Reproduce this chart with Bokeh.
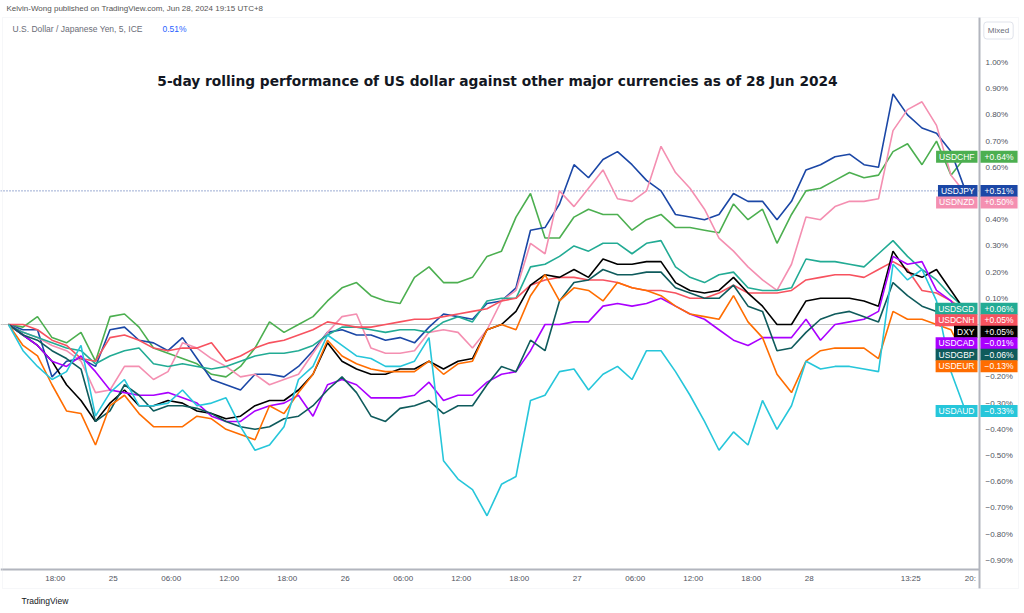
from bokeh.plotting import figure
from bokeh.models import Range1d, FixedTicker, CustomJSTickFormatter, Label, BoxAnnotation
from bokeh.embed import file_html
from bokeh.resources import INLINE

# ---------------- data: 5-day rolling % change, sampled every 1.5 h ----------------
sample_step = 9  # x unit = 10 minutes -> 1.5 h per sample

usdchf = [0.00, -0.01, 0.03, -0.05, -0.07, -0.03, -0.14, 0.03, 0.04, -0.01,
          -0.09, -0.11, -0.13, -0.15, -0.19, -0.20, -0.16, -0.09, 0.01, -0.03,
          0.00, 0.03, 0.09, 0.14, 0.16, 0.11, 0.09, 0.08, 0.18, 0.22,
          0.16, 0.16, 0.18, 0.26, 0.28, 0.41, 0.50, 0.33, 0.33, 0.41,
          0.44, 0.42, 0.42, 0.36, 0.40, 0.42, 0.37, 0.37, 0.36, 0.35,
          0.46, 0.40, 0.44, 0.31, 0.42, 0.51, 0.52, 0.55, 0.58, 0.56,
          0.57, 0.66, 0.69, 0.61, 0.70, 0.57, 0.64]
usdjpy = [0.00, -0.02, -0.02, -0.20, -0.14, -0.13, -0.16, -0.02, -0.01, -0.06,
          -0.07, -0.10, -0.05, -0.13, -0.21, -0.23, -0.25, -0.19, -0.19, -0.20,
          -0.16, -0.10, -0.03, -0.02, -0.04, -0.04, -0.06, -0.05, -0.07, -0.01,
          0.04, 0.03, 0.02, 0.08, 0.09, 0.14, 0.36, 0.37, 0.46, 0.61,
          0.56, 0.63, 0.66, 0.61, 0.55, 0.51, 0.42, 0.41, 0.40, 0.42,
          0.50, 0.47, 0.47, 0.40, 0.47, 0.59, 0.61, 0.64, 0.65, 0.61,
          0.60, 0.88, 0.80, 0.75, 0.73, 0.66, 0.51]
usdnzd = [0.00, -0.03, -0.05, -0.08, -0.10, -0.14, -0.26, -0.25, -0.16, -0.16,
          -0.21, -0.18, -0.07, -0.09, -0.13, -0.16, -0.20, -0.19, -0.23, -0.21,
          -0.19, -0.11, -0.03, 0.03, 0.04, -0.09, -0.11, -0.11, -0.10, -0.03,
          -0.02, -0.03, -0.09, -0.02, 0.09, 0.13, 0.31, 0.27, 0.51, 0.45,
          0.52, 0.59, 0.48, 0.47, 0.51, 0.68, 0.58, 0.52, 0.44, 0.33,
          0.28, 0.22, 0.17, 0.13, 0.23, 0.41, 0.40, 0.45, 0.47, 0.47,
          0.48, 0.74, 0.82, 0.85, 0.76, 0.57, 0.50]
usdsgd = [0.00, -0.03, -0.05, -0.07, -0.09, -0.10, -0.15, -0.12, -0.10, -0.09,
          -0.15, -0.16, -0.15, -0.16, -0.17, -0.16, -0.14, -0.12, -0.11, -0.11,
          -0.10, -0.08, -0.04, -0.01, -0.01, -0.02, -0.03, -0.02, -0.02, -0.03,
          0.01, 0.03, 0.01, 0.09, 0.10, 0.10, 0.22, 0.23, 0.26, 0.30,
          0.28, 0.31, 0.31, 0.27, 0.31, 0.32, 0.22, 0.18, 0.16, 0.19,
          0.20, 0.14, 0.13, 0.13, 0.14, 0.25, 0.24, 0.24, 0.23, 0.22,
          0.27, 0.32, 0.26, 0.21, 0.17, 0.11, 0.06]
usdcnh = [0.00, 0.00, -0.02, -0.06, -0.08, -0.13, -0.14, -0.05, -0.04, -0.06,
          -0.09, -0.10, -0.09, -0.09, -0.07, -0.14, -0.12, -0.09, -0.07, -0.06,
          -0.04, -0.02, 0.01, 0.00, -0.01, -0.01, 0.00, 0.01, 0.02, 0.02,
          0.03, 0.04, 0.05, 0.06, 0.09, 0.10, 0.15, 0.17, 0.18, 0.18,
          0.17, 0.17, 0.16, 0.14, 0.13, 0.13, 0.12, 0.10, 0.10, 0.12,
          0.15, 0.12, 0.12, 0.12, 0.13, 0.17, 0.18, 0.19, 0.19, 0.18,
          0.21, 0.24, 0.21, 0.13, 0.12, 0.09, 0.05]
dxy = [0.00, -0.04, -0.08, -0.14, -0.23, -0.29, -0.37, -0.30, -0.25, -0.31,
       -0.31, -0.29, -0.30, -0.33, -0.34, -0.36, -0.35, -0.31, -0.29, -0.29,
       -0.25, -0.19, -0.07, -0.14, -0.17, -0.19, -0.19, -0.17, -0.17, -0.14,
       -0.17, -0.14, -0.13, -0.02, 0.00, 0.05, 0.15, 0.19, 0.18, 0.21,
       0.18, 0.25, 0.23, 0.23, 0.24, 0.24, 0.16, 0.13, 0.12, 0.13,
       0.18, 0.12, 0.07, 0.00, 0.00, 0.09, 0.10, 0.10, 0.10, 0.09,
       0.07, 0.28, 0.20, 0.18, 0.21, 0.13, 0.05]
usdcad = [0.00, -0.04, -0.08, -0.14, -0.16, -0.12, -0.18, -0.25, -0.26, -0.27,
          -0.27, -0.26, -0.28, -0.30, -0.35, -0.37, -0.37, -0.33, -0.31, -0.30,
          -0.27, -0.35, -0.23, -0.21, -0.23, -0.28, -0.28, -0.28, -0.27, -0.22,
          -0.29, -0.27, -0.27, -0.22, -0.19, -0.18, -0.10, 0.00, 0.00, 0.01,
          0.01, 0.07, 0.08, 0.07, 0.08, 0.10, 0.07, 0.04, 0.02, -0.02,
          -0.06, -0.08, -0.05, -0.05, -0.05, 0.02, -0.06, 0.00, 0.01, 0.02,
          0.05, 0.26, 0.23, 0.24, 0.13, 0.09, -0.01]
usdgbp = [0.00, -0.04, -0.06, -0.10, -0.13, -0.17, -0.37, -0.33, -0.23, -0.27,
          -0.33, -0.31, -0.31, -0.32, -0.34, -0.37, -0.39, -0.40, -0.39, -0.36,
          -0.35, -0.31, -0.25, -0.20, -0.26, -0.35, -0.37, -0.32, -0.31, -0.29,
          -0.34, -0.31, -0.31, -0.23, -0.16, -0.18, -0.06, -0.10, 0.09, 0.16,
          0.17, 0.21, 0.19, 0.19, 0.20, 0.20, 0.14, 0.12, 0.10, 0.10,
          0.15, 0.07, 0.05, -0.10, -0.09, -0.03, 0.02, 0.04, 0.05, 0.03,
          0.01, 0.16, 0.11, 0.07, 0.05, 0.03, -0.06]
usdeur = [0.00, -0.08, -0.12, -0.23, -0.33, -0.34, -0.46, -0.31, -0.27, -0.34,
          -0.39, -0.39, -0.39, -0.35, -0.36, -0.40, -0.42, -0.44, -0.31, -0.34,
          -0.26, -0.19, -0.06, -0.12, -0.15, -0.17, -0.18, -0.18, -0.18, -0.14,
          -0.19, -0.15, -0.14, -0.02, 0.00, -0.02, 0.11, 0.19, 0.09, 0.14,
          0.13, 0.09, 0.16, 0.14, 0.13, 0.11, 0.07, 0.04, 0.03, 0.02,
          0.11, 0.01, -0.05, -0.19, -0.26, -0.14, -0.10, -0.09, -0.09, -0.09,
          -0.13, 0.05, 0.02, 0.02, 0.00, -0.02, -0.13]
usdaud = [0.00, -0.10, -0.16, -0.21, -0.18, -0.08, -0.35, -0.26, -0.21, -0.31,
          -0.31, -0.30, -0.25, -0.31, -0.30, -0.28, -0.39, -0.48, -0.46, -0.39,
          -0.21, -0.16, -0.04, -0.08, -0.12, -0.13, -0.16, -0.16, -0.14, -0.05,
          -0.52, -0.59, -0.63, -0.73, -0.61, -0.58, -0.29, -0.27, -0.18, -0.17,
          -0.25, -0.19, -0.16, -0.21, -0.10, -0.10, -0.18, -0.27, -0.37, -0.48,
          -0.41, -0.46, -0.29, -0.40, -0.31, -0.14, -0.17, -0.16, -0.16, -0.17,
          -0.18, 0.23, 0.17, 0.21, 0.09, -0.18, -0.33]

series_names = ["USDCHF", "USDJPY", "USDNZD", "USDSGD", "USDCNH",
                "DXY", "USDCAD", "USDGBP", "USDEUR", "USDAUD"]
series_values = [usdchf, usdjpy, usdnzd, usdsgd, usdcnh,
                 dxy, usdcad, usdgbp, usdeur, usdaud]
series_colors = ["#4caf50", "#1b47a6", "#f48fb1", "#22ab94", "#f7525f",
                 "#000000", "#aa00ff", "#0f5b5c", "#ff6d00", "#26c6da"]

time_ticks = [29, 65, 101, 137, 173, 209, 245, 281, 317, 353, 389, 425, 461, 497, 560, 597]
time_labels = ["18:00", "25", "06:00", "12:00", "18:00", "26", "06:00", "12:00",
               "18:00", "27", "06:00", "12:00", "18:00", "28", "13:25", "20:"]
pct_ticks = [-0.9, -0.8, -0.7, -0.6, -0.5, -0.4, -0.3, -0.2, -0.1, 0.0,
             0.1, 0.2, 0.3, 0.4, 0.5, 0.6, 0.7, 0.8, 0.9, 1.0]

title_text = "5-day rolling performance of US dollar against other major currencies as of 28 Jun 2024"
header_text = "Kelvin-Wong published on TradingView.com, Jun 28, 2024 19:15 UTC+8"
symbol_text = "U.S. Dollar / Japanese Yen, 5, ICE"
symbol_change = "0.51%"

# ---------------- layout (frame = whole canvas; axes pinned with fixed_location) ----------------
W, H = 1024, 613
PX_PER_X = 58.0 / 36.0     # px per x unit (6 h = 58 px)
PX_PER_PCT = 262.0         # px per 1 %

def sx(px):   # canvas px -> data x (decorations only)
    return (px - 8) / PX_PER_X

def sy(py):   # canvas px -> data y (decorations only)
    return (324 - py) / PX_PER_PCT

AXIS_X = sx(979)     # price-scale edge
AXIS_Y = sy(569)     # time-scale edge

p = figure(width=W, height=H, x_range=Range1d(sx(0), sx(W)), y_range=Range1d(sy(H), sy(0)),
           output_backend="svg", toolbar_location=None, y_axis_location="right",
           min_border_left=0, min_border_right=0, min_border_top=0, min_border_bottom=0,
           background_fill_color="white", border_fill_color="white")
p.outline_line_color = None
p.xgrid.visible = False
p.ygrid.visible = False

FONT = "Liberation Sans"
AX_COL = "#50535e"

xa = p.xaxis[0]
xa.fixed_location = AXIS_Y
xa.bounds = (sx(0), AXIS_X)
xa.ticker = FixedTicker(ticks=time_ticks)
xa.major_label_overrides = {t: l for t, l in zip(time_ticks, time_labels)}
xa.major_tick_out = 0
xa.major_tick_in = 0
xa.minor_tick_out = 0
xa.minor_tick_in = 0
xa.axis_line_color = "#b2b5be"
xa.axis_line_width = 2
xa.major_label_standoff = 4
xa.major_label_text_font = FONT
xa.major_label_text_font_size = "8px"
xa.major_label_text_color = AX_COL

ya = p.yaxis[0]
ya.fixed_location = AXIS_X
ya.bounds = (sy(588), sy(17))
ya.ticker = FixedTicker(ticks=pct_ticks)
ya.formatter = CustomJSTickFormatter(
    code="const a = Math.abs(tick).toFixed(2) + '%'; return (tick < -1e-9 ? '\u2212' : '') + a;")
ya.major_tick_out = 0
ya.major_tick_in = 0
ya.minor_tick_out = 0
ya.minor_tick_in = 0
ya.axis_line_color = "#b2b5be"
ya.axis_line_width = 2
ya.major_label_standoff = 6
ya.major_label_text_font = FONT
ya.major_label_text_font_size = "8px"
ya.major_label_text_color = AX_COL

# chart border
p.add_layout(BoxAnnotation(left=sx(2), right=sx(1018), top=sy(17), bottom=sy(588),
                           fill_alpha=0, line_color="#e0e3eb", line_width=1))

# zero line and last-price (USDJPY) line
p.segment(x0=[sx(0)], y0=[0.0], x1=[AXIS_X], y1=[0.0], line_color="#c4c4c4", line_width=1)
p.segment(x0=[sx(0)], y0=[usdjpy[-1]], x1=[AXIS_X], y1=[usdjpy[-1]],
          line_color="#3a5aa8", line_dash="1 2", line_width=1)

xs = [i * sample_step for i in range(len(usdchf))]
for name, vals, col in zip(series_names, series_values, series_colors):
    p.line(xs, vals, line_color=col, line_width=1.6)

# ---------------- right-hand tags ----------------
gap = 11.5 / PX_PER_PCT
order = sorted(range(len(series_names)), key=lambda i: -series_values[i][-1])
prev = None
for i in order:
    v = series_values[i][-1]
    y = v if prev is None else min(v, prev - gap)
    prev = y
    col = series_colors[i]
    txt = ("+" if v >= 0 else "\u2212") + f"{abs(v):.2f}%"
    p.add_layout(Label(x=AXIS_X, y=y, text=series_names[i], text_align="right",
                       text_baseline="middle", x_offset=-2, text_color="white",
                       text_font=FONT, text_font_size="8.5px",
                       background_fill_color=col, padding=(3, 1)))
    p.add_layout(Label(x=AXIS_X, y=y, text=txt, text_align="left",
                       text_baseline="middle", x_offset=1, text_color="white",
                       text_font=FONT, text_font_size="8.5px",
                       background_fill_color=col, padding=(4, 1)))

# ---------------- texts ----------------
p.add_layout(Label(x=sx(6), y=sy(8), text=header_text, text_align="left",
                   text_baseline="middle", text_font=FONT, text_font_size="8px",
                   text_color="#555555"))
p.add_layout(Label(x=sx(12), y=sy(28), text=symbol_text, text_align="left",
                   text_baseline="middle", text_font=FONT, text_font_size="8.5px",
                   text_color="#6a6d78"))
p.add_layout(Label(x=sx(162), y=sy(28), text=symbol_change, text_align="left",
                   text_baseline="middle", text_font=FONT, text_font_size="8.5px",
                   text_color="#2962ff"))
p.add_layout(Label(x=sx(497), y=sy(80), text=title_text, text_align="center",
                   text_baseline="middle", text_font="DejaVu Sans", text_font_style="bold",
                   text_font_size="13.75px", text_color="#131722"))
p.add_layout(Label(x=sx(998), y=sy(30), text="Mixed", text_align="center",
                   text_baseline="middle", text_font=FONT, text_font_size="8px",
                   text_color="#6a6d78", border_line_color="#e0e3eb",
                   background_fill_color="white", padding=4, border_radius=3))
p.add_layout(Label(x=sx(21), y=sy(600), text="TradingView", text_align="left",
                   text_baseline="middle", text_font=FONT, text_font_size="8.5px",
                   text_color="#131722"))

open("out.html", "w", encoding="utf-8").write(file_html(p, INLINE))
